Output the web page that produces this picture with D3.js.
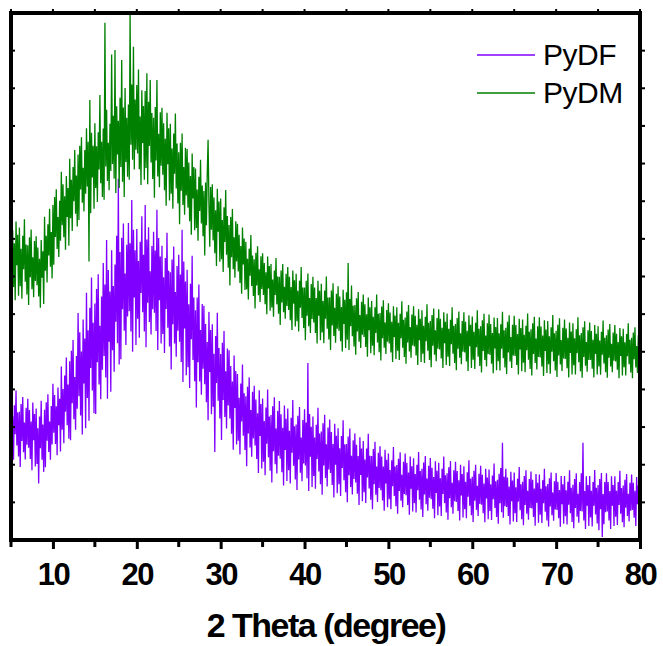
<!DOCTYPE html>
<html>
<head>
<meta charset="utf-8">
<style>
html, body {
  margin: 0px;
  padding: 0px;
  background: #fff;
}
text {
  font-family: "Liberation Sans", Arial, sans-serif;
}
</style>
</head>
<body>
<div id="chart"></div>
<script src="https://cdn.jsdelivr.net/npm/d3@7"></script>
<script>
  // scan starts at 5 deg, one reading every 0.1 deg up to 80 deg
  var startAngle = 5;
  var stepAngle = 0.1;

  var xTicks = [10, 20, 30, 40, 50, 60, 70, 80];
  var xMinorTicks = [5, 15, 25, 35, 45, 55, 65, 75];
  var seriesNames = ["PyDF", "PyDM"];
  var seriesColors = ["#7f00ff", "#008000"];

  // intensities (a.u.), one row per degree
  var pydf = [
    378,242,329,213,358,281,397,251,339,222,
    341,194,361,263,380,233,312,214,351,253,
    375,245,345,215,315,185,365,265,335,195,
    349,202,297,150,328,244,370,213,307,181,
    346,193,366,264,387,234,315,213,356,254,
    415,285,385,255,355,225,405,305,375,235,
    461,293,401,257,437,341,485,305,413,269,
    475,265,503,363,531,321,433,293,489,349,
    603,382,552,331,501,280,586,416,535,297,
    657,377,557,317,617,457,697,397,577,337,
    628,335,667,472,706,413,569,374,647,452,
    736,489,679,432,797,375,717,527,660,394,
    770,504,675,447,732,580,808,523,960,466,
    765,480,803,613,841,556,708,518,784,594,
    842,608,788,554,903,500,824,644,770,518,
    826,588,741,537,792,656,860,605,758,554,
    890,512,798,630,831,579,714,546,781,613,
    819,604,769,555,877,505,802,637,753,522,
    782,547,698,497,749,614,816,564,715,514,
    711,453,745,573,780,522,659,487,728,556,
    758,527,705,473,824,420,740,562,687,438,
    718,459,626,404,681,533,755,478,644,422,
    610,352,644,472,679,421,558,386,627,455,
    622,414,574,366,526,318,606,446,558,334,
    573,354,495,234,542,417,604,370,510,323,
    494,266,524,372,555,327,448,296,509,357,
    504,323,462,282,421,240,490,351,449,254,
    441,264,378,227,416,315,466,277,390,239,
    382,196,407,283,432,246,345,221,394,270,
    410,251,373,215,337,178,398,276,361,190,
    376,208,316,172,352,256,400,220,328,184,
    332,153,355,236,379,201,296,177,343,224,
    369,216,334,180,298,145,357,239,322,157,
    349,185,290,150,325,232,372,197,302,161,
    307,133,330,214,353,179,272,156,319,203,
    347,198,312,164,470,130,335,221,301,141,
    328,170,272,136,306,215,351,182,283,148,
    288,120,310,198,333,165,254,142,299,187,
    320,178,287,146,255,113,309,200,277,124,
    297,148,244,117,276,191,318,159,254,127,
    255,100,275,172,296,141,224,121,265,162,
    283,153,253,123,223,93,273,173,243,103,
    263,127,214,98,243,166,282,137,224,107,
    223,82,242,148,261,120,195,101,232,138,
    249,132,222,105,195,78,240,150,213,87,
    230,108,186,82,212,143,247,117,195,90,
    199,70,216,130,233,104,173,87,208,122,
    230,119,205,93,179,67,222,136,196,76,
    217,98,175,73,200,132,234,107,183,81,
    189,61,206,121,223,95,163,78,197,112,
    218,108,192,83,167,58,209,125,184,66,
    205,89,164,64,189,122,222,98,172,73,
    177,54,193,111,210,87,152,70,185,103,
    208,101,183,77,159,52,200,118,175,60,
    196,82,155,58,180,115,212,91,163,66,
    168,48,184,104,200,80,144,64,176,96,
    197,94,173,71,150,47,189,110,166,55,
    187,77,148,53,171,108,203,85,156,61,
    160,43,176,98,191,74,258,59,168,90,
    189,88,166,64,142,41,181,103,158,49,
    179,71,140,48,163,102,194,79,148,55,
    155,39,170,93,185,70,131,54,162,85,
    182,84,160,61,137,38,175,99,152,46,
    174,67,136,45,159,98,189,75,143,52,
    149,36,164,89,179,66,126,51,156,81,
    178,80,155,58,133,35,170,95,148,43,
    170,63,132,41,155,94,185,71,139,48,
    147,31,162,85,177,62,123,46,154,77,
    177,76,258,52,130,29,169,91,146,37,
    170,60,131,36,154,91,186,68,139,44,
    146,26,162,82,178,8,122,42,154,74,
    177,76,154,52,130,29,169,91,146,37,
    169,62,131,40,154,93,184,70,138,47,
    145,34,160,86,175,64,123,49,152,78,
    174,80,152,59,131,37,167,95,145,44,
    173
  ];

  var pydm = [
    857,707,823,672,788,637,846,730,811,649,
    830,674,774,641,808,719,852,686,785,652,
    783,624,804,698,825,666,751,645,794,688,
    807,677,777,647,747,617,797,697,767,627,
    859,715,808,684,839,756,880,726,818,695,
    890,731,911,805,932,773,858,752,901,795,
    978,836,945,804,913,771,967,858,935,782,
    1013,855,957,821,991,900,1036,867,968,833,
    1024,850,1047,931,1070,896,989,873,1036,920,
    1094,939,1058,740,1169,868,1082,963,1047,880,
    1107,935,1046,898,1083,984,1182,948,1058,911,
    1093,904,1374,992,1143,954,1055,929,1106,980,
    1290,999,1127,960,1302,922,1152,1024,1114,935,
    1175,991,1275,952,1149,911,1201,1004,1122,965,
    1157,957,1400,1050,1210,1010,1310,984,1170,1037,
    1209,1027,1250,985,1125,943,1195,1055,1153,957,
    1193,988,1240,945,1164,1047,1222,1003,1134,959,
    1122,909,1150,1008,1222,966,1079,937,1136,994,
    1148,970,1107,929,1066,888,1135,998,1094,902,
    1106,920,1040,880,1080,973,1133,934,1053,894,
    1030,839,1055,928,1080,890,991,864,1042,915,
    1039,883,1003,847,967,811,1027,907,991,823,
    987,829,931,795,965,874,1010,841,942,807,
    927,756,950,836,973,1063,893,779,938,824,
    945,796,910,762,876,728,933,819,899,739,
    907,746,850,712,884,792,930,758,861,723,
    837,676,858,751,879,719,804,697,847,740,
    840,713,811,683,781,654,830,732,801,664,
    792,666,747,639,774,702,810,675,756,648,
    746,615,763,676,780,650,719,632,754,667,
    762,651,736,626,711,600,753,668,728,609,
    733,618,692,593,716,651,749,626,700,601,
    699,571,716,631,733,605,673,588,707,622,
    725,611,699,584,672,558,716,628,690,567,
    707,581,662,554,689,617,725,590,671,563,
    671,531,689,596,708,568,643,550,680,587,
    699,578,671,550,643,522,689,596,662,531,
    681,551,635,523,663,588,700,561,644,533,
    645,505,663,570,682,542,617,524,654,561,
    674,556,647,528,619,501,665,574,638,510,
    658,532,736,505,640,568,676,541,622,514,
    624,492,642,554,659,527,598,510,633,545,
    652,539,626,513,600,487,644,557,618,496,
    635,516,593,491,618,550,652,525,601,499,
    603,477,620,536,637,511,578,494,611,527,
    629,522,604,498,580,473,621,539,596,481,
    618,503,577,478,601,536,634,511,585,486,
    591,468,607,525,624,501,566,484,599,517,
    621,514,596,490,572,465,613,531,588,473,
    610,495,569,470,593,528,626,503,577,478,
    582,459,598,516,615,492,557,475,590,508,
    613,506,588,482,564,457,605,523,580,465,
    602,487,561,462,585,520,618,495,569,470,
    574,451,590,508,607,484,549,467,582,500,
    605,498,580,474,556,449,597,515,572,457,
    594,479,553,454,577,512,610,487,561,462,
    568,445,584,502,601,478,543,461,576,494,
    599,492,574,468,550,443,591,509,566,451,
    590,475,549,450,573,508,606,483,557,458,
    564,441,580,498,597,474,539,457,572,490,
    596,489,571,465,547,440,588,506,563,448,
    586,471,545,446,569,504,602,479,553,454,
    560,437,576,494,593,470,535,453,568,486,
    592,485,567,461,543,436,584,502,559,444,
    582,467,541,442,565,500,598,475,549,450,
    556,433,572,490,589,466,531,449,564,482,
    586,481,562,456,537,432,578,497,554,440,
    576,464,536,440,560,496,592,472,544,448,
    550,431,565,486,581,463,526,447,557,478,
    578,478,555,455,532,432,571,494,548,440,
    568,461,530,439,553,492,583,469,537,446,
    544,431,559,484,574,461,521,446,551,476,
    571,474,548,452,526,430,563,489,541,437,
    561,459,525,437,547,488,576,467,532,445,
    537,430,551,480,565,458,515,444,544,473,
    540
  ];

  var width = 663, height = 646;
  // note: "top" is taken by window.top, so plot edges get their own names
  var plotLeft = 11, plotRight = 640, plotTop = 13, plotBottom = 540;

  var svg = d3.select("#chart").append("svg")
    .attr("width", width)
    .attr("height", height);

  var x = d3.scaleLinear().domain([5, 80]).range([plotLeft, plotRight]);
  var y = d3.scaleLinear().domain([0, 1400]).range([plotBottom, plotTop]);

  svg.append("clipPath").attr("id", "clip")
    .append("rect")
    .attr("x", plotLeft).attr("y", plotTop)
    .attr("width", plotRight - plotLeft).attr("height", plotBottom - plotTop);

  var line = d3.line()
    .x(function (d, i) { return x(startAngle + i * stepAngle); })
    .y(function (d) { return y(d); });

  svg.append("g").attr("clip-path", "url(#clip)")
    .selectAll("path")
    .data([pydf, pydm])
    .enter()
    .append("path")
    .attr("d", line)
    .attr("fill", "none")
    .attr("stroke", function (d, i) { return seriesColors[i]; })
    .attr("stroke-width", 1.3)
    .attr("stroke-linejoin", "bevel");

  // bottom axis: big ticks with labels, small ticks in between
  var xAxis = svg.append("g")
    .attr("transform", "translate(0," + plotBottom + ")")
    .call(d3.axisBottom(x).tickValues(xTicks).tickSize(9).tickPadding(14));
  xAxis.select(".domain").remove();
  xAxis.selectAll("line").attr("stroke", "#000").attr("stroke-width", 3);
  xAxis.selectAll("text")
    .attr("fill", "#000")
    .style("font-size", "31px")
    .style("font-weight", "bold")
    .style("letter-spacing", "-1.5px")
    .attr("dy", "0.72em");

  svg.append("g")
    .attr("transform", "translate(0," + plotBottom + ")")
    .selectAll("line")
    .data(xMinorTicks)
    .enter()
    .append("line")
    .attr("x1", function (d) { return x(d); })
    .attr("x2", function (d) { return x(d); })
    .attr("y1", 0).attr("y2", 7)
    .attr("stroke", "#000").attr("stroke-width", 3);

  // top edge ticks every 5 deg
  svg.append("g")
    .selectAll("line")
    .data(xTicks.concat(xMinorTicks))
    .enter()
    .append("line")
    .attr("x1", function (d) { return x(d); })
    .attr("x2", function (d) { return x(d); })
    .attr("y1", plotTop).attr("y2", plotTop - 4)
    .attr("stroke", "#000").attr("stroke-width", 2);

  // side ticks, no labels on intensity
  var yTicks = d3.range(100, 1400, 100);
  svg.append("g")
    .selectAll("line")
    .data(yTicks)
    .enter()
    .append("line")
    .attr("x1", plotLeft).attr("x2", plotLeft + 4)
    .attr("y1", function (d) { return y(d); })
    .attr("y2", function (d) { return y(d); })
    .attr("stroke", "#000").attr("stroke-width", 2);
  svg.append("g")
    .selectAll("line")
    .data(yTicks)
    .enter()
    .append("line")
    .attr("x1", plotRight).attr("x2", plotRight + 5)
    .attr("y1", function (d) { return y(d); })
    .attr("y2", function (d) { return y(d); })
    .attr("stroke", "#000").attr("stroke-width", 2);

  // frame
  svg.append("rect")
    .attr("x", plotLeft).attr("y", plotTop)
    .attr("width", plotRight - plotLeft).attr("height", plotBottom - plotTop)
    .attr("fill", "none")
    .attr("stroke", "#000")
    .attr("stroke-width", 4);

  svg.append("text")
    .attr("x", 326).attr("y", 637)
    .attr("text-anchor", "middle")
    .style("font-size", "34px")
    .style("font-weight", "bold")
    .style("letter-spacing", "-1.5px")
    .text("2 Theta (degree)");

  // legend
  var legend = svg.append("g")
    .selectAll("g")
    .data(seriesNames)
    .enter()
    .append("g")
    .attr("transform", function (d, i) { return "translate(477," + (55 + i * 38) + ")"; });
  legend.append("line")
    .attr("x1", 0).attr("x2", 58)
    .attr("stroke", function (d, i) { return seriesColors[i]; })
    .attr("stroke-width", 1.5);
  legend.append("text")
    .attr("x", 66).attr("y", 10)
    .style("font-size", "30px")
    .style("letter-spacing", "-0.5px")
    .text(function (d) { return d; });
</script>
</body>
</html>
